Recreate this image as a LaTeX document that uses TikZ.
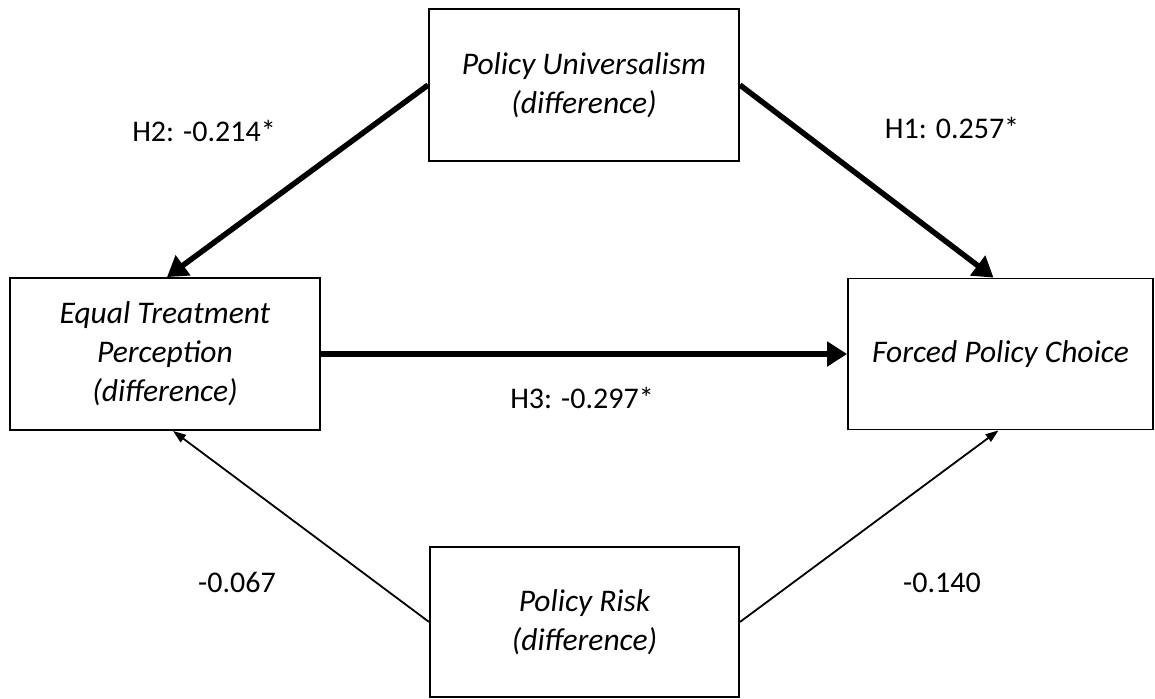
\documentclass[tikz,border=0pt]{standalone}
\usepackage{fontspec}
\setmainfont{Carlito}
\usetikzlibrary{arrows.meta}
\begin{document}
\begin{tikzpicture}[x=1pt,y=-1pt,
  boxnode/.style={draw, line width=1.8pt, rectangle, align=center,
    font=\fontsize{31.5}{39}\selectfont\itshape, inner sep=0pt},
  lbl/.style={font=\fontsize{30}{35}\selectfont, inner sep=0pt},
  strong/.style={line width=5.5pt, -{Triangle[length=20pt,width=24pt]}},
  weak/.style={line width=1.8pt, -{Triangle[length=13pt,width=9pt]}}]
\useasboundingbox (0,0) rectangle (1155,698);
\node[boxnode, minimum width=310pt, minimum height=152pt] (top) at (584,85) {Policy Universalism\\(difference)};
\node[boxnode, minimum width=310pt, minimum height=152pt] (left) at (165,354) {Equal Treatment\\Percep\kern0pt tion\\(difference)};
\node[boxnode, minimum width=305pt, minimum height=151pt] (right) at (1000.5,354) {Forced Policy Choice};
\node[boxnode, minimum width=309pt, minimum height=150pt] (bottom) at (584.5,622) {Policy Risk\\(difference)};
\draw[strong] (top.west) -- ([xshift=2pt]left.north);
\draw[strong] (top.east) -- ([xshift=-7pt]right.north);
\draw[strong] (left.east) -- (right.west);
\draw[weak] (bottom.west) -- ([xshift=8pt]left.south);
\draw[weak] (bottom.east) -- ([xshift=-2pt]right.south);
\node[lbl] (l2) at (204,131) {H2: -0.214*};
\node[lbl] (l1) at (952,128) {H1: 0.257*};
\node[lbl] (l3) at (582,398) {H3: -0.297*};
\node[lbl] (l4) at (237,582) {-0.067};
\node[lbl] (l5) at (942,583) {-0.140};
\end{tikzpicture}
\end{document}
